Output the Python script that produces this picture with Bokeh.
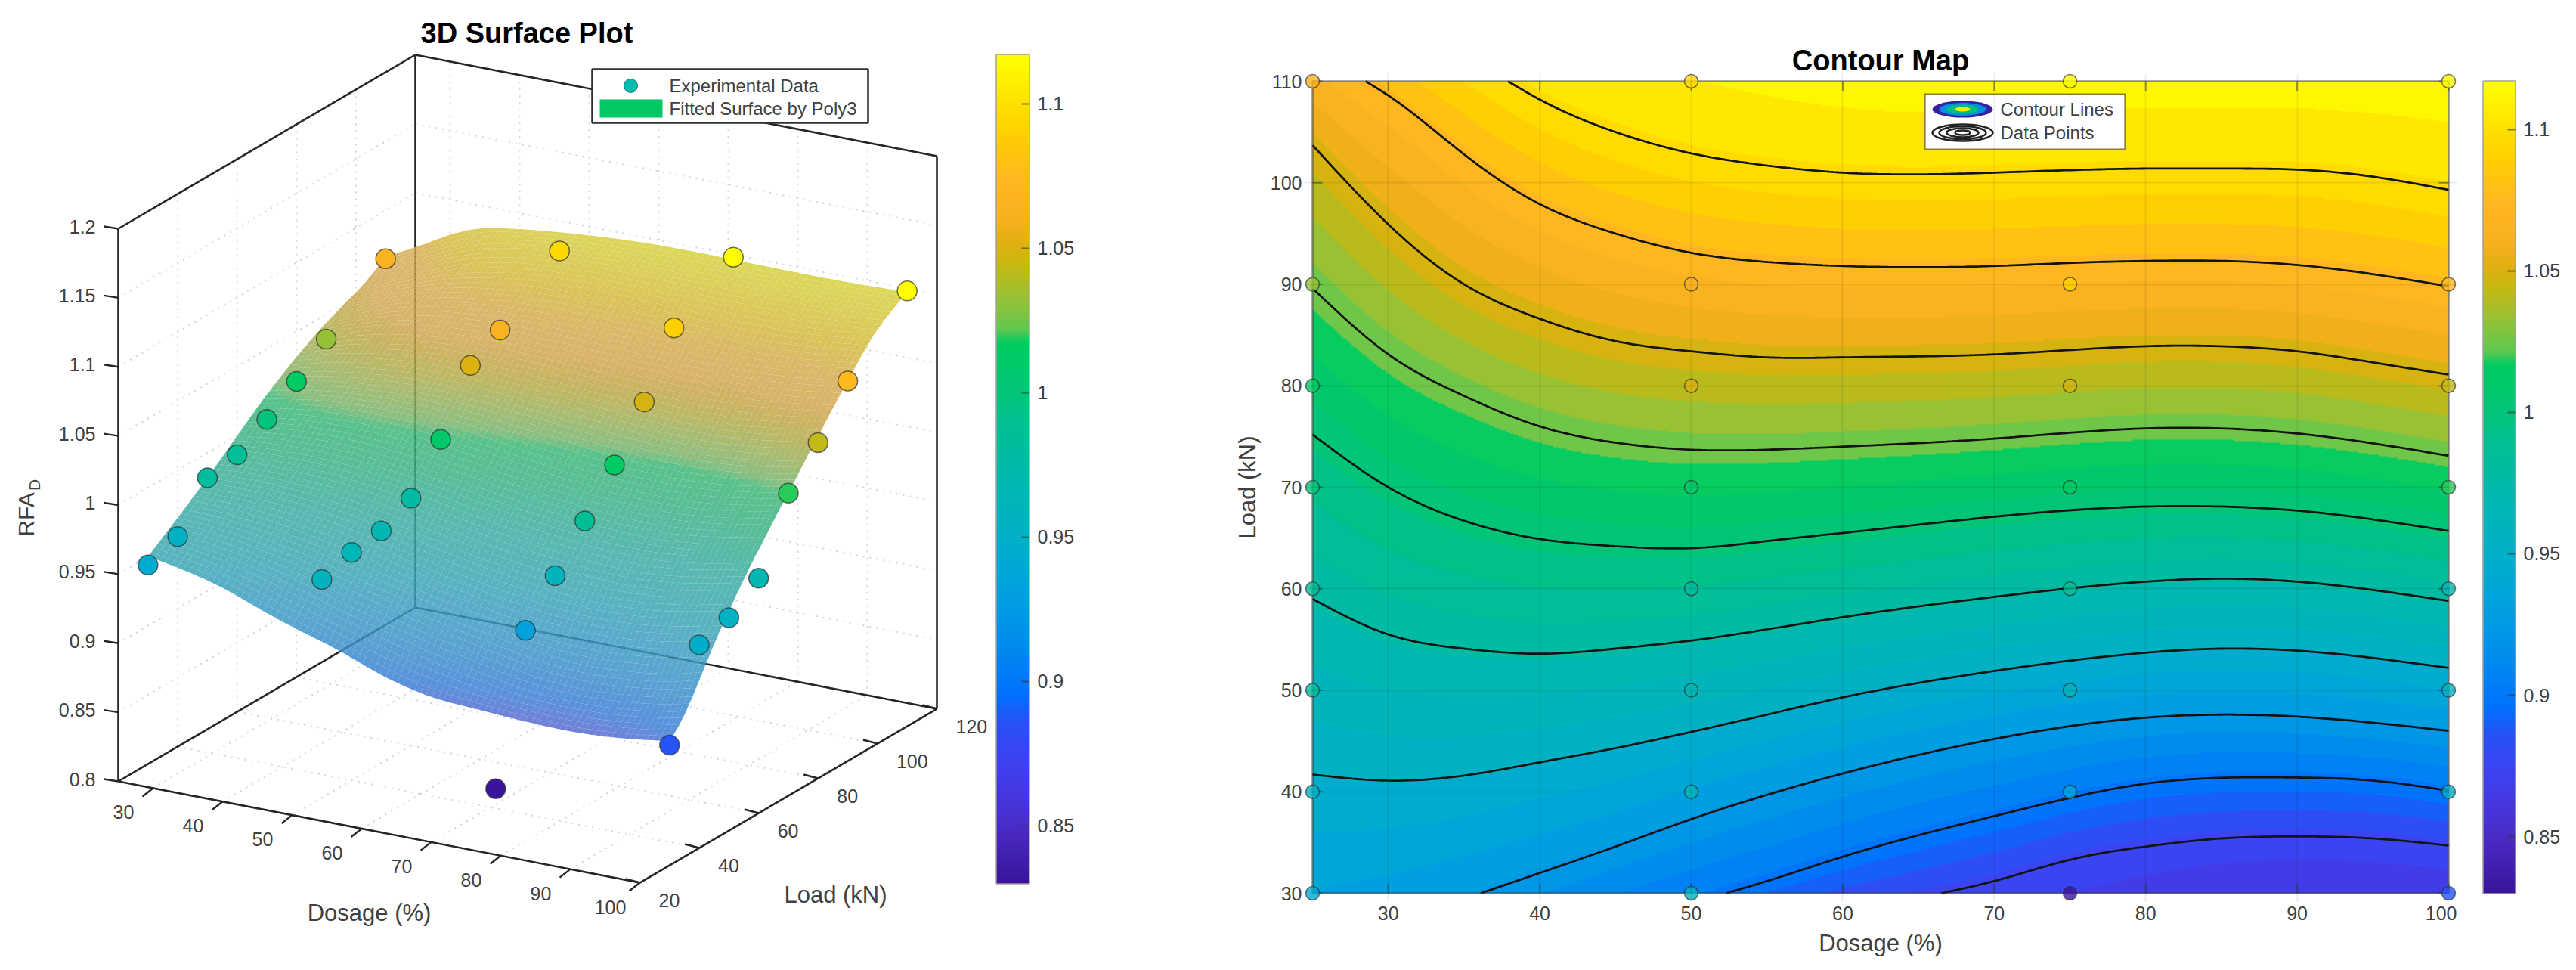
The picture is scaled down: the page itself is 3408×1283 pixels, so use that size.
import numpy as np
from bokeh.embed import file_html
from bokeh.layouts import row, column
from bokeh.models import ColumnDataSource, FixedTicker, LinearColorMapper, Range1d
from bokeh.plotting import figure
from bokeh.resources import INLINE
from bokeh.core.properties import value

# ------------------------------- data -------------------------------
DOSAGES = [25, 50, 75, 100]
LOADS = [30, 40, 50, 60, 70, 80, 90, 110]
RFA_25 = [0.944, 0.952, 0.982, 0.986, 0.999, 1.014, 1.032, 1.065]
RFA_50 = [0.958, 0.965, 0.968, 0.979, 1.009, 1.050, 1.063, 1.095]
RFA_75 = [0.831, 0.933, 0.960, 0.987, 1.015, 1.048, 1.089, 1.115]
RFA_100 = [0.887, 0.947, 0.954, 0.970, 1.019, 1.043, 1.075, 1.115]

# contour lines: level -> (dosage, load)
C_1125 = ([25, 40, 60, 80, 100], [140, 130, 119, 118, 118])
C_1100 = ([37.9, 40, 45, 50, 55, 60, 70, 80, 85, 90, 95, 100],
          [110, 108.2, 105, 102.9, 101.7, 101, 101, 101.4, 101.4, 101.3, 100.6, 99.3])
C_1075 = ([28.5, 30, 35, 40, 45, 50, 55, 60, 70, 75, 80, 85, 90, 100],
          [110, 108.6, 102.8, 97.9, 95, 93.1, 92.2, 91.8, 91.8, 92.1, 92.3, 92.3, 91.9, 89.8])
C_1050 = ([25, 30, 35, 40, 45, 50, 55, 60, 70, 80, 85, 90, 95, 100],
          [103.7, 95.9, 90, 86.6, 84.4, 83.4, 82.8, 82.8, 83.1, 83.9, 83.9, 83.4, 82.3, 81.1])
C_1025 = ([25, 30, 35, 40, 45, 50, 55, 60, 70, 80, 85, 90, 100],
          [89.6, 83.1, 79, 76, 74.4, 73.7, 73.7, 74, 74.8, 75.8, 75.8, 75.3, 73.1])
C_1000 = ([25, 30, 35, 40, 45, 50, 55, 60, 70, 80, 85, 90, 100],
          [75.2, 70, 66.7, 64.9, 64.2, 64, 64.7, 65.5, 67.1, 68.1, 68.1, 67.7, 65.7])
C_0975 = ([25, 30, 35, 40, 45, 50, 55, 60, 70, 80, 85, 90, 100],
          [59, 55.5, 54.1, 53.6, 54.1, 54.9, 56.0, 57.2, 59.2, 60.7, 61, 60.7, 58.8])
C_0950 = ([25, 30, 35, 40, 45, 50, 55, 60, 70, 80, 85, 90, 100],
          [41.7, 41.1, 41.6, 42.9, 44.3, 45.9, 47.6, 49.3, 51.9, 53.7, 54.1, 53.9, 52.2])
C_0925 = ([36.1, 40, 45, 50, 55, 60, 70, 80, 85, 90, 100],
          [30, 32, 34.6, 37.3, 39.7, 41.8, 45.2, 47.3, 47.6, 47.4, 46])
C_0900 = ([52.3, 55, 60, 70, 75, 80, 90, 95, 100],
          [30, 31.2, 33.6, 37.6, 39.4, 40.8, 41.4, 41.1, 40.1])
C_0875 = ([66.5, 70, 75, 80, 85, 90, 95, 100],
          [30, 31.2, 33.3, 34.6, 35.4, 35.6, 35.4, 34.7])
C_0850 = ([25, 60, 75, 85, 100], [-20, 5, 17, 23, 23])
CONTOUR_LINES = [(0.875, C_0875), (0.900, C_0900), (0.925, C_0925), (0.950, C_0950),
                 (0.975, C_0975), (1.000, C_1000), (1.025, C_1025), (1.050, C_1050),
                 (1.075, C_1075), (1.100, C_1100)]

LIFT_D = [25, 50, 75, 100]
LIFT_L = [30, 50, 70, 90, 110]
LIFT_25 = [0.017, 0.020, 0.025, 0.018, 0.0]
LIFT_50 = [0.010, 0.010, 0.010, 0.005, 0.0]
LIFT_75 = [0.015, 0.010, 0.003, 0.0, 0.0]
LIFT_100 = [0.025, 0.018, 0.005, 0.0, 0.0]

CB_VALUES = [0.83, 0.85, 0.87, 0.885, 0.895, 0.91, 0.93, 0.95, 0.97, 0.99, 1.0, 1.017,
             1.022, 1.035, 1.045, 1.052, 1.06, 1.075, 1.09, 1.1, 1.117]
CB_COLORS = ["#3a149a", "#4a2cc8", "#4040f0", "#2a50f8", "#0070ff", "#0088f0", "#00a0e0",
             "#00b0c8", "#00b8b0", "#00c090", "#00c478", "#00cc60", "#60c850", "#a0c030",
             "#c8b810", "#e0b010", "#f8b020", "#ffb820", "#ffd000", "#ffdf00", "#ffff00"]
CB_TICKS = [0.85, 0.9, 0.95, 1.0, 1.05, 1.1]
CB_TICK_LABELS = ["0.85", "0.9", "0.95", "1", "1.05", "1.1"]
Z_TICKS = [0.8, 0.85, 0.9, 0.95, 1.0, 1.05, 1.1, 1.15, 1.2]
Z_LABELS = ["0.8", "0.85", "0.9", "0.95", "1", "1.05", "1.1", "1.15", "1.2"]
D_TICKS_3D = [30, 40, 50, 60, 70, 80, 90, 100]
L_TICKS_3D = [20, 40, 60, 80, 100, 120]
MAP_D_TICKS = [30, 40, 50, 60, 70, 80, 90, 100]
MAP_L_TICKS = [30, 40, 50, 60, 70, 80, 90, 100, 110]
FONT = "Liberation Sans"
TXT = "#404040"


# ------------------------------ helpers ------------------------------
def hx(c):
    return [int(c[i:i + 2], 16) for i in (1, 3, 5)]


RGB = np.array([hx(c) for c in CB_COLORS], dtype=float)


def cmap(v):
    v = np.asarray(v, dtype=float)
    return np.stack([np.interp(v, CB_VALUES, RGB[:, k]) for k in range(3)], axis=-1)


def to_hex(a):
    return ["#%02x%02x%02x" % tuple(int(round(c)) for c in t) for t in a]


PAL_SMOOTH = to_hex(cmap(np.linspace(0.83, 1.117, 256)))
PAL_BANDS = to_hex(cmap(0.83 + (np.arange(36) + 0.5) * (1.117 - 0.83) / 36))
mapper_smooth = LinearColorMapper(palette=PAL_SMOOTH, low=0.83, high=1.117)
mapper_bands = LinearColorMapper(palette=PAL_BANDS, low=0.83, high=1.117)


def smooth(xs, ys, q):
    """natural cubic spline through the read knots, straight beyond its ends"""
    xs, ys = np.asarray(xs, float), np.asarray(ys, float)
    n = len(xs)
    h = np.diff(xs)
    A = np.zeros((n, n))
    r = np.zeros(n)
    A[0, 0] = A[-1, -1] = 1
    for k in range(1, n - 1):
        A[k, k - 1], A[k, k], A[k, k + 1] = h[k - 1], 2 * (h[k - 1] + h[k]), h[k]
        r[k] = 6 * ((ys[k + 1] - ys[k]) / h[k] - (ys[k] - ys[k - 1]) / h[k - 1])
    M = np.linalg.solve(A, r)
    q = np.asarray(q, float)
    i = np.clip(np.searchsorted(xs, q) - 1, 0, n - 2)
    u, v = xs[i + 1] - q, q - xs[i]
    hi = h[i]
    out = (M[i] * u**3 + M[i + 1] * v**3) / (6 * hi) + (ys[i] / hi - M[i] * hi / 6) * u + (ys[i + 1] / hi - M[i + 1] * hi / 6) * v
    s0 = (ys[1] - ys[0]) / h[0] - h[0] * (2 * M[0] + M[1]) / 6
    s1 = (ys[-1] - ys[-2]) / h[-1] + h[-1] * (M[-2] + 2 * M[-1]) / 6
    out = np.where(q < xs[0], ys[0] + (q - xs[0]) * s0, out)
    return np.where(q > xs[-1], ys[-1] + (q - xs[-1]) * s1, out)


DG = np.linspace(25, 100, 751)
LG = np.linspace(30, 110, 537)
ALL = [(0.85, C_0850)] + CONTOUR_LINES + [(1.125, C_1125)]
LV = np.array([a_ for a_, _ in ALL])
POS = np.array([smooth(c[0], c[1], DG) for _, c in ALL])
POS = np.maximum.accumulate(POS, axis=0) + np.arange(len(LV))[:, None] * 1e-6
FIELD = np.array([np.interp(LG, POS[:, j], LV) for j in range(len(DG))]).T


def blur(m, n, axis):
    k = np.ones(n) / n
    pad = n // 2
    w = [(0, 0), (0, 0)]
    w[axis] = (pad, pad)
    e = np.pad(m, w, mode="reflect", reflect_type="odd")
    return np.apply_along_axis(lambda s: np.convolve(s, k, mode="valid"), axis, e)


FIELD = blur(FIELD, 21, 0)
SURF = blur(blur(FIELD, 61, 0), 61, 1)


def surf_at(d, l):
    j = np.clip(np.round((np.asarray(d) - 25) / 0.1).astype(int), 0, 750)
    i = np.clip(np.round((np.asarray(l) - 30) / (80 / 536)).astype(int), 0, 536)
    return SURF[i, j]


def lift_grid(ds, ls):
    by_load = np.array([smooth(LIFT_L, r, ls) for r in (LIFT_25, LIFT_50, LIFT_75, LIFT_100)])
    return np.array([smooth(LIFT_D, by_load[:, i], ds) for i in range(len(ls))])


def colorbar_fig(width, height, left, top, bar_w, bar_h):
    cb = figure(width=width, height=height, x_range=Range1d(0, 1), y_range=Range1d(0.83, 1.117),
                output_backend="svg", toolbar_location=None, y_axis_location="right",
                x_axis_location=None, min_border_left=left, min_border_top=top,
                min_border_right=width - left - bar_w, min_border_bottom=height - top - bar_h,
                outline_line_color="#444444", outline_line_alpha=0.5, outline_line_width=2.5)
    cb.grid.visible = False
    cb.image(image=[np.linspace(0.83, 1.117, 1024)[:, None]], x=0, y=0.83, dw=1, dh=0.287,
             color_mapper=mapper_smooth)
    ax = cb.yaxis[0]
    ax.ticker = FixedTicker(ticks=CB_TICKS)
    ax.major_label_overrides = dict(zip(CB_TICKS, CB_TICK_LABELS))
    ax.major_label_text_font = FONT
    ax.major_label_text_font_size = "25px"
    ax.major_label_text_color = TXT
    ax.major_label_standoff = 11
    ax.major_tick_in = 10
    ax.major_tick_out = 0
    ax.major_tick_line_color = "#333333"
    ax.major_tick_line_alpha = 0.6
    ax.major_tick_line_width = 2
    ax.minor_tick_line_color = None
    ax.axis_line_color = None
    return cb


# ------------------------------ 3D panel ------------------------------
def proj(d, l, z):
    d, l, z = np.asarray(d, float), np.asarray(l, float), np.asarray(z, float)
    return (156 + (d - 25) * 9.2 + (l - 20) * 3.93,
            1033 + (d - 25) * 1.787 - (l - 20) * 2.30 - (z - 0.8) * 1827.5)


a = figure(width=1310, height=1283, x_range=Range1d(0, 1310), y_range=Range1d(1283, 60),
           output_backend="svg", toolbar_location=None, x_axis_location=None, y_axis_location=None,
           min_border_left=0, min_border_right=0, min_border_bottom=0, min_border_top=60,
           outline_line_color=None, title="3D Surface Plot")
a.grid.visible = False
a.title.text_font = FONT
a.title.text_font_size = "38px"
a.title.text_font_style = "bold"
a.title.text_color = "black"
a.title.align = "left"
a.title.offset = 556
a.title.standoff = -8


def seg3d(p, ends, **kw):
    xs, ys = [], []
    for s, e in ends:
        x0, y0 = proj(*s)
        x1, y1 = proj(*e)
        xs.append([float(x0), float(x1)])
        ys.append([float(y0), float(y1)])
    p.multi_line(xs, ys, **kw)


grid_ends = []
for z in Z_TICKS:
    grid_ends += [((25, 20, z), (25, 120, z)), ((25, 120, z), (100, 120, z))]
for d in D_TICKS_3D:
    grid_ends += [((d, 120, 0.8), (d, 120, 1.2)), ((d, 20, 0.8), (d, 120, 0.8))]
for l in L_TICKS_3D:
    grid_ends += [((25, l, 0.8), (25, l, 1.2)), ((25, l, 0.8), (100, l, 0.8))]
seg3d(a, grid_ends, line_color="#d4d4d4", line_width=2, line_dash="2 7")

box_ends = [((25, 20, 0.8), (100, 20, 0.8)), ((100, 20, 0.8), (100, 120, 0.8)),
            ((100, 120, 0.8), (25, 120, 0.8)), ((25, 120, 0.8), (25, 20, 0.8)),
            ((25, 20, 0.8), (25, 20, 1.2)), ((25, 120, 0.8), (25, 120, 1.2)),
            ((100, 120, 0.8), (100, 120, 1.2)), ((25, 20, 1.2), (25, 120, 1.2)),
            ((25, 120, 1.2), (100, 120, 1.2))]
seg3d(a, box_ends, line_color="#262626", line_width=2.6)

for z in Z_TICKS:
    x0, y0 = proj(25, 20, z)
    a.segment(float(x0) - 19, float(y0) - 3, float(x0), float(y0), line_color="#262626", line_width=2.4)
a.text(126, [float(proj(25, 20, z)[1]) - 3 for z in Z_TICKS], text=Z_LABELS, text_align="right",
       text_baseline="middle", text_font=value(FONT), text_font_size="25px", text_color=TXT)
for d in D_TICKS_3D:
    x0, y0 = proj(d, 20, 0.8)
    a.segment(float(x0), float(y0), float(x0) - 14, float(y0) + 11, line_color="#262626", line_width=2.4)
a.text([float(proj(d, 20, 0.8)[0]) - 39 for d in D_TICKS_3D],
       [float(proj(d, 20, 0.8)[1]) + 32 for d in D_TICKS_3D],
       text=[str(d) for d in D_TICKS_3D], text_align="center", text_baseline="middle",
       text_font=value(FONT), text_font_size="25px", text_color=TXT)
for l in L_TICKS_3D:
    x0, y0 = proj(100, l, 0.8)
    a.segment(float(x0) - 19, float(y0) - 5, float(x0), float(y0), line_color="#262626", line_width=2.4)
a.text([float(proj(100, l, 0.8)[0]) + 25 for l in L_TICKS_3D],
       [float(proj(100, l, 0.8)[1]) + 23 for l in L_TICKS_3D],
       text=[str(l) for l in L_TICKS_3D], text_align="left", text_baseline="middle",
       text_font=value(FONT), text_font_size="25px", text_color=TXT)

# fitted surface
S_D = np.linspace(25, 100, 91)
S_L = np.linspace(30, 110, 73)
DD, LL = np.meshgrid(S_D, S_L)
ZZ = surf_at(DD, LL) + lift_grid(S_D, S_L)
SX, SY = proj(DD, LL, ZZ)
qx, qy, qc = [], [], []
for i in range(len(S_L) - 1)[::-1]:
    for j in range(len(S_D) - 1):
        qx.append([SX[i, j], SX[i, j + 1], SX[i + 1, j + 1], SX[i + 1, j]])
        qy.append([SY[i, j], SY[i, j + 1], SY[i + 1, j + 1], SY[i + 1, j]])
        qc.append((ZZ[i, j] + ZZ[i + 1, j + 1]) / 2)
a.patches(qx, qy, fill_color=to_hex(0.6 * cmap(qc) + 60), fill_alpha=0.85, line_color=None)

# measured points
pd_, pl_, pv_ = [], [], []
for d, vals in zip(DOSAGES, [RFA_25, RFA_50, RFA_75, RFA_100]):
    for l, v in zip(LOADS, vals):
        pd_.append(d)
        pl_.append(l)
        pv_.append(v)
PX, PY = proj(pd_, pl_, pv_)
src3d = ColumnDataSource(dict(x=PX, y=PY, v=pv_))
a.scatter("x", "y", size=26, source=src3d, fill_color={"field": "v", "transform": mapper_smooth},
          line_color="#303030", line_alpha=0.7, line_width=1.5)

# labels
a.text(488, 1207, text=["Dosage (%)"], text_align="center", text_baseline="middle",
       text_font=value(FONT), text_font_size="31px", text_color=TXT)
a.text(1105, 1183, text=["Load (kN)"], text_align="center", text_baseline="middle",
       text_font=value(FONT), text_font_size="31px", text_color=TXT)
a.text(34, 680, text=["RFA"], angle=np.pi / 2, text_align="center", text_baseline="middle",
       text_font=value(FONT), text_font_size="30px", text_color=TXT)
a.text(45, 641, text=["D"], angle=np.pi / 2, text_align="center", text_baseline="middle",
       text_font=value(FONT), text_font_size="21px", text_color=TXT)

# legend
a.quad(left=783, right=1148, top=91, bottom=162, fill_color="white", line_color="#303030", line_width=2.6)
a.scatter([834], [113], size=18, fill_color="#00bfb0", line_color="#207080", line_width=1)
a.quad(left=793, right=876, top=131, bottom=155, fill_color="#00c864", line_color=None)
a.text(885, [113, 143], text=["Experimental Data", "Fitted Surface by Poly3"], text_baseline="middle",
       text_font=value(FONT), text_font_size="24px", text_color=TXT)

cb_left = colorbar_fig(258, 1283, 8, 72, 43, 1096)

# ----------------------------- contour panel -----------------------------
EXT = 11
SX_ = 1503 / 75
SY_ = 1074 / 80
b = figure(width=1682, height=1283, x_range=Range1d(25 - EXT / SX_, 100 + EXT / SX_),
           y_range=Range1d(30 - EXT / SY_, 110 + EXT / SY_), output_backend="svg",
           toolbar_location=None, min_border_left=157, min_border_right=0, min_border_top=96,
           min_border_bottom=91, outline_line_color=None, title="Contour Map")
b.title.text_font = FONT
b.title.text_font_size = "38px"
b.title.text_font_style = "bold"
b.title.text_color = "black"
b.title.align = "center"
b.title.standoff = -8
b.image(image=[FIELD], x=25, y=30, dw=75, dh=80, color_mapper=mapper_bands)

for ax, name, ticks, stand in ((b.xaxis[0], "Dosage (%)", MAP_D_TICKS, 6), (b.yaxis[0], "Load (kN)", MAP_L_TICKS, 3)):
    ax.ticker = FixedTicker(ticks=ticks)
    ax.axis_label = name
    ax.axis_label_text_font = FONT
    ax.axis_label_text_font_size = "31px"
    ax.axis_label_text_font_style = "normal"
    ax.axis_label_text_color = TXT
    ax.axis_label_standoff = 10
    ax.major_label_text_font = FONT
    ax.major_label_text_font_size = "25px"
    ax.major_label_text_color = TXT
    ax.major_tick_in = 0
    ax.major_tick_out = 0
    ax.minor_tick_line_color = None
    ax.major_tick_line_color = None
    ax.axis_line_color = None
    ax.major_label_standoff = stand
b.xgrid.ticker = FixedTicker(ticks=[30, 40, 50, 60, 70, 80, 90])
b.ygrid.ticker = FixedTicker(ticks=[40, 50, 60, 70, 80, 90, 100])
for g, bnd in ((b.xgrid[0], (30, 110)), (b.ygrid[0], (25, 100))):
    g.bounds = bnd
    g.level = "annotation"
    g.grid_line_color = "#000000"
    g.grid_line_alpha = 0.07
    g.grid_line_width = 2

tick_style = dict(line_color="#333333", line_alpha=0.5, line_width=2)
b.segment(MAP_D_TICKS, 110, MAP_D_TICKS, 110 - 13 / SY_, **tick_style)
b.segment(MAP_D_TICKS, 30, MAP_D_TICKS, 30 + 13 / SY_, **tick_style)
b.segment(100, MAP_L_TICKS, 100 - 13 / SX_, MAP_L_TICKS, **tick_style)
b.segment(25, MAP_L_TICKS, 25 + 13 / SX_, MAP_L_TICKS, **tick_style)

for _, (cd, cl) in CONTOUR_LINES:
    q = np.linspace(cd[0], cd[-1], 200)
    b.line(q, smooth(cd, cl, q), line_color="#141414", line_width=2.8)
b.line([25, 100, 100, 25, 25], [30, 30, 110, 110, 30], line_color="#333333", line_alpha=0.55, line_width=2.5)
src2d = ColumnDataSource(dict(x=pd_, y=pl_, v=pv_))
b.scatter("x", "y", size=18, source=src2d, fill_color={"field": "v", "transform": mapper_smooth},
          fill_alpha=0.8, line_color="#303030", line_alpha=0.65, line_width=1.5)


def dx(X):
    return 25 + (X - 1736) / SX_


def dy(Y):
    return 110 - (Y - 107) / SY_


b.quad(left=dx(2546), right=dx(2811), top=dy(124), bottom=dy(197), fill_color="white",
       line_color="#8a7f30", line_width=2.2)
for w, h, c in ((80, 22, "#3a1fa0"), (62, 17, "#0090e0"), (42, 12, "#00c080"), (20, 6, "#ffee00")):
    b.ellipse(dx(2596), dy(144), width=w, height=h, width_units="screen", height_units="screen",
              fill_color=c, line_color=None)
for w, h in ((80, 22), (62, 17), (42, 12), (20, 6)):
    b.ellipse(dx(2596), dy(175), width=w, height=h, width_units="screen", height_units="screen",
              fill_color=None, line_color="#222222", line_width=2.5)
b.text(dx(2646), [dy(144), dy(175)], text=["Contour Lines", "Data Points"], text_baseline="middle",
       text_font=value(FONT), text_font_size="24px", text_color=TXT)

cb_right = colorbar_fig(158, 1283, 35, 107, 42, 1074)

layout = row(column(a), column(cb_left), column(b), column(cb_right), spacing=0)
open("out.html", "w").write(file_html(layout, INLINE))
